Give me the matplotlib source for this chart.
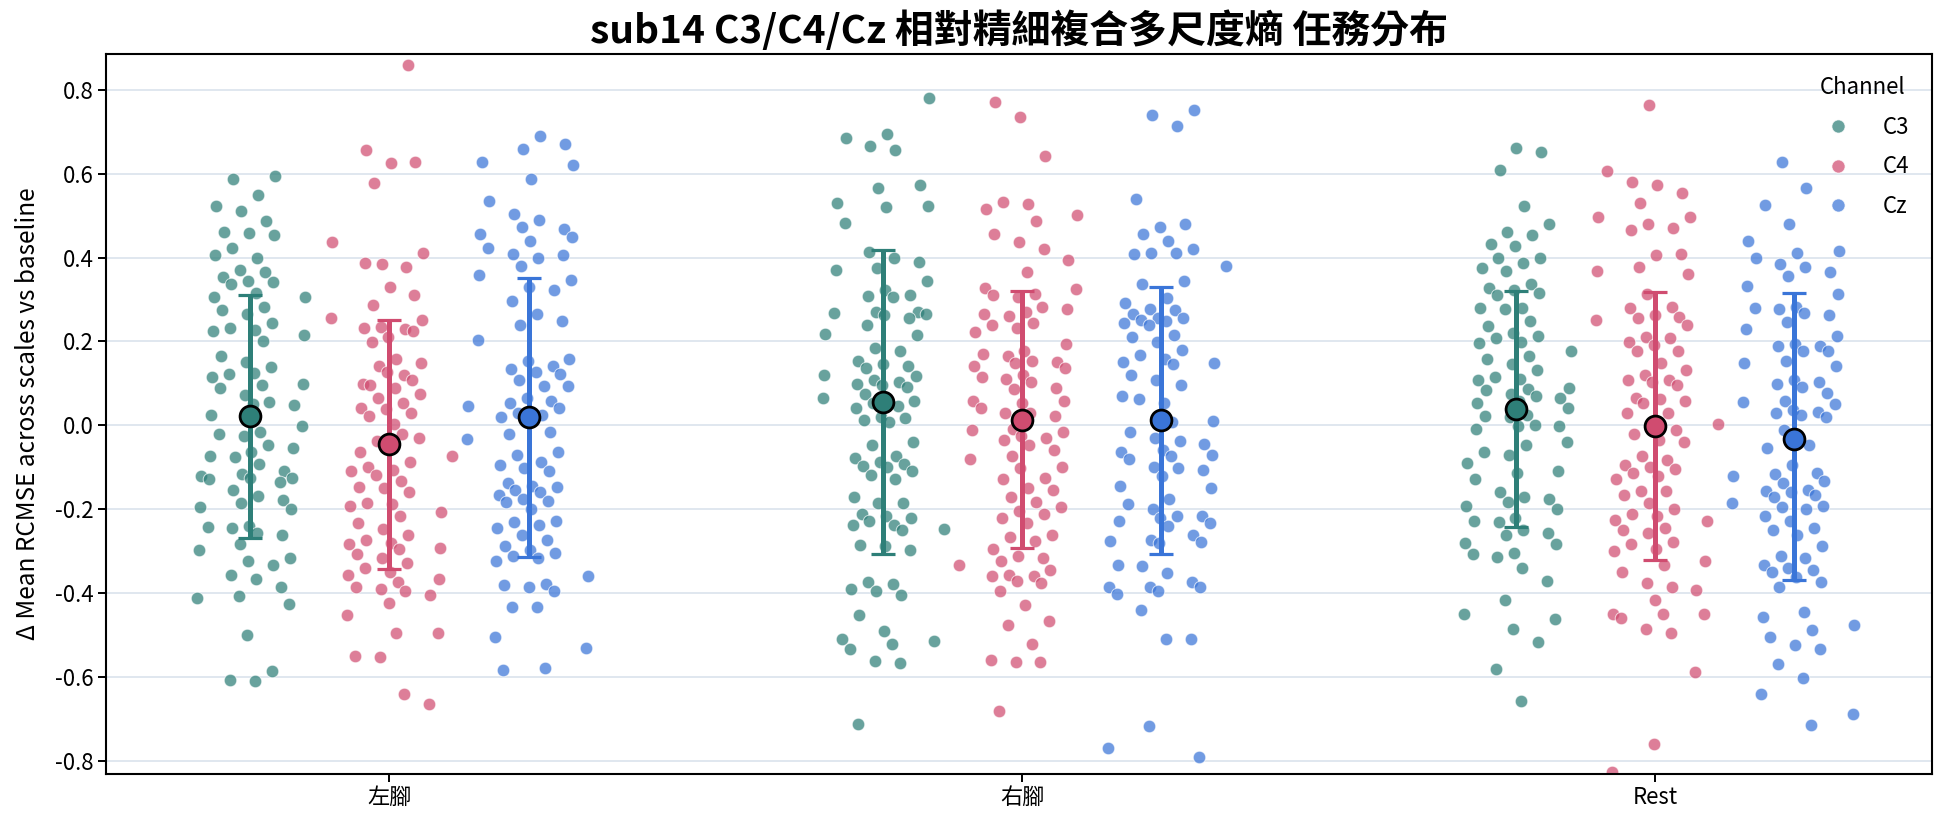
import numpy as np
import matplotlib
matplotlib.use("Agg")
import matplotlib.pyplot as plt
from matplotlib.lines import Line2D

plt.rcParams['font.family'] = ['Noto Sans CJK TC', 'DejaVu Sans']
plt.rcParams['axes.unicode_minus'] = False

tasks = ['左腳', '右腳', 'Rest']
channels = ['C3', 'C4', 'Cz']
base_colors = ['#2E7F78', '#D04C70', '#3A75D8']
y_ticks = [-0.8, -0.6, -0.4, -0.2, 0.0, 0.2, 0.4, 0.6, 0.8]

# summary markers (mean, upper and lower error-bar ends)
mean_left = [0.021, -0.045, 0.019]
mean_right = [0.056, 0.012, 0.012]
mean_rest = [0.039, -0.003, -0.033]
upper_left = [0.310, 0.252, 0.351]
upper_right = [0.417, 0.320, 0.330]
upper_rest = [0.320, 0.319, 0.316]
lower_left = [-0.268, -0.343, -0.314]
lower_right = [-0.308, -0.293, -0.308]
lower_rest = [-0.242, -0.321, -0.370]

left_C3 = [0.594, 0.587, 0.550, 0.524, 0.511, 0.488, 0.461, 0.459, 0.453, 0.423, 0.400, 0.405,
           0.371, 0.366, 0.353, 0.344, 0.342, 0.337, 0.316, 0.307, 0.305, 0.282, 0.274, 0.266,
           0.243, 0.232, 0.228, 0.224, 0.215, 0.201, 0.165, 0.150, 0.139, 0.122, 0.125, 0.114,
           0.099, 0.095, 0.089, 0.072, 0.056, 0.049, 0.050, 0.025, -0.003, -0.015, -0.020, -0.026,
           -0.048, -0.054, -0.065, -0.073, -0.076, -0.093, -0.110, -0.116, -0.121, -0.125, -0.127,
           -0.129, -0.154, -0.169, -0.179, -0.186, -0.194, -0.200, -0.241, -0.242, -0.245, -0.256,
           -0.261, -0.284, -0.298, -0.317, -0.323, -0.334, -0.357, -0.368, -0.385, -0.407, -0.411,
           -0.426, -0.501, -0.587, -0.607, -0.610, -0.135]
left_C4 = [0.860, 0.656, 0.625, 0.627, 0.579, 0.437, 0.412, 0.384, 0.378, 0.386, 0.330, 0.310,
           0.288, 0.257, 0.251, 0.234, 0.229, 0.232, 0.210, 0.224, 0.199, 0.159, 0.148, 0.141,
           0.120, 0.098, 0.126, 0.109, 0.095, 0.089, 0.075, 0.064, 0.053, 0.042, 0.038, 0.030,
           0.021, 0.002, -0.031, -0.037, -0.021, -0.065, -0.073, -0.087, -0.099, -0.107, -0.108,
           -0.119, -0.132, -0.147, -0.149, -0.160, -0.186, -0.188, -0.192, -0.208, -0.216, -0.233,
           -0.247, -0.261, -0.273, -0.280, -0.284, -0.293, -0.295, -0.306, -0.317, -0.329, -0.340,
           -0.351, -0.357, -0.368, -0.374, -0.385, -0.390, -0.396, -0.405, -0.424, -0.452, -0.495,
           -0.495, -0.551, -0.553, -0.640, -0.665]
left_Cz = [0.689, 0.672, 0.658, 0.629, 0.620, 0.588, 0.535, 0.505, 0.489, 0.469, 0.473, 0.457,
           0.448, 0.440, 0.423, 0.408, 0.400, 0.406, 0.380, 0.359, 0.347, 0.330, 0.323, 0.297,
           0.265, 0.249, 0.238, 0.204, 0.159, 0.154, 0.142, 0.133, 0.126, 0.122, 0.109, 0.094,
           0.093, 0.064, 0.058, 0.053, 0.045, 0.042, 0.030, 0.025, 0.019, 0.008, -0.015, -0.020,
           -0.033, -0.065, -0.071, -0.087, -0.095, -0.102, -0.110, -0.138, -0.144, -0.147, -0.155,
           -0.160, -0.166, -0.177, -0.181, -0.183, -0.200, -0.228, -0.231, -0.239, -0.245, -0.261,
           -0.273, -0.289, -0.297, -0.304, -0.312, -0.317, -0.323, -0.360, -0.379, -0.381, -0.385,
           -0.396, -0.433, -0.433, -0.506, -0.531, -0.579, -0.584]
right_C3 = [0.781, 0.694, 0.685, 0.665, 0.656, 0.572, 0.565, 0.531, 0.522, 0.520, 0.482, 0.414,
            0.400, 0.389, 0.376, 0.370, 0.344, 0.322, 0.311, 0.308, 0.305, 0.271, 0.270, 0.268,
            0.266, 0.264, 0.255, 0.238, 0.218, 0.215, 0.185, 0.176, 0.154, 0.145, 0.142, 0.137,
            0.120, 0.117, 0.109, 0.102, 0.098, 0.095, 0.092, 0.075, 0.066, 0.058, 0.053, 0.047,
            0.042, 0.019, 0.017, 0.013, 0.008, -0.039, -0.046, -0.073, -0.077, -0.087, -0.093,
            -0.098, -0.099, -0.110, -0.118, -0.129, -0.172, -0.185, -0.186, -0.211, -0.216, -0.222,
            -0.228, -0.237, -0.239, -0.248, -0.250, -0.286, -0.289, -0.297, -0.374, -0.379, -0.390,
            -0.396, -0.405, -0.452, -0.491, -0.510, -0.514, -0.522, -0.533, -0.562, -0.568, -0.712]
right_C4 = [0.771, 0.735, 0.642, 0.533, 0.527, 0.515, 0.501, 0.487, 0.457, 0.436, 0.421, 0.393,
            0.365, 0.328, 0.324, 0.313, 0.311, 0.305, 0.283, 0.277, 0.271, 0.266, 0.260, 0.243,
            0.238, 0.232, 0.223, 0.193, 0.176, 0.171, 0.165, 0.154, 0.151, 0.148, 0.142, 0.137,
            0.120, 0.114, 0.111, 0.103, 0.089, 0.086, 0.058, 0.058, 0.053, 0.042, 0.030, 0.028,
            0.021, -0.009, -0.012, -0.017, -0.026, -0.031, -0.035, -0.048, -0.059, -0.073, -0.080,
            -0.099, -0.102, -0.127, -0.129, -0.149, -0.155, -0.172, -0.183, -0.194, -0.205, -0.211,
            -0.222, -0.233, -0.261, -0.267, -0.276, -0.295, -0.312, -0.317, -0.323, -0.334, -0.345,
            -0.357, -0.360, -0.360, -0.371, -0.376, -0.396, -0.430, -0.466, -0.477, -0.522, -0.560,
            -0.564, -0.564, -0.682]
right_Cz = [0.752, 0.740, 0.715, 0.540, 0.473, 0.479, 0.457, 0.440, 0.420, 0.412, 0.412, 0.409,
            0.381, 0.344, 0.337, 0.303, 0.292, 0.277, 0.274, 0.266, 0.257, 0.255, 0.252, 0.249,
            0.243, 0.240, 0.215, 0.210, 0.199, 0.179, 0.167, 0.159, 0.151, 0.148, 0.145, 0.120,
            0.109, 0.095, 0.062, 0.053, 0.070, 0.011, 0.008, -0.017, -0.031, -0.037, -0.044, -0.059,
            -0.065, -0.071, -0.073, -0.080, -0.099, -0.102, -0.107, -0.121, -0.144, -0.149, -0.175,
            -0.188, -0.200, -0.216, -0.216, -0.222, -0.228, -0.233, -0.241, -0.261, -0.273, -0.275,
            -0.278, -0.282, -0.334, -0.337, -0.353, -0.374, -0.385, -0.385, -0.387, -0.396, -0.402,
            -0.441, -0.510, -0.510, -0.718, -0.769, -0.792]
rest_C3 = [0.661, 0.652, 0.609, 0.524, 0.481, 0.462, 0.454, 0.432, 0.427, 0.400, 0.400, 0.387,
           0.375, 0.369, 0.337, 0.328, 0.322, 0.316, 0.311, 0.279, 0.279, 0.277, 0.249, 0.237,
           0.221, 0.212, 0.208, 0.199, 0.196, 0.176, 0.165, 0.159, 0.145, 0.131, 0.114, 0.111,
           0.109, 0.089, 0.086, 0.084, 0.075, 0.070, 0.066, 0.058, 0.053, 0.042, 0.025, 0.021,
           0.019, 0.000, -0.003, -0.003, -0.009, -0.039, -0.048, -0.065, -0.071, -0.091, -0.110,
           -0.113, -0.129, -0.160, -0.172, -0.177, -0.183, -0.192, -0.200, -0.222, -0.228, -0.231,
           -0.250, -0.256, -0.261, -0.282, -0.284, -0.304, -0.306, -0.315, -0.340, -0.371, -0.416,
           -0.450, -0.463, -0.486, -0.517, -0.581, -0.657]
rest_C4 = [0.765, 0.606, 0.580, 0.574, 0.554, 0.529, 0.496, 0.496, 0.481, 0.470, 0.466, 0.405,
           0.408, 0.378, 0.369, 0.361, 0.313, 0.283, 0.280, 0.264, 0.258, 0.255, 0.252, 0.238,
           0.210, 0.208, 0.199, 0.191, 0.178, 0.178, 0.148, 0.131, 0.120, 0.109, 0.107, 0.103,
           0.095, 0.066, 0.062, 0.058, 0.053, 0.028, 0.030, 0.002, -0.012, -0.020, -0.035, -0.039,
           -0.073, -0.082, -0.096, -0.099, -0.104, -0.113, -0.121, -0.129, -0.157, -0.158, -0.166,
           -0.185, -0.200, -0.211, -0.216, -0.225, -0.228, -0.245, -0.250, -0.256, -0.278, -0.284,
           -0.295, -0.301, -0.323, -0.334, -0.349, -0.377, -0.385, -0.394, -0.418, -0.450, -0.450,
           -0.450, -0.461, -0.486, -0.495, -0.589, -0.761, -0.828]
rest_Cz = [0.629, 0.565, 0.525, 0.479, 0.440, 0.415, 0.412, 0.400, 0.384, 0.378, 0.365, 0.356,
           0.333, 0.313, 0.283, 0.279, 0.277, 0.268, 0.264, 0.246, 0.229, 0.213, 0.193, 0.190,
           0.190, 0.176, 0.176, 0.154, 0.148, 0.142, 0.109, 0.103, 0.098, 0.092, 0.077, 0.058,
           0.055, 0.050, 0.036, 0.032, 0.030, 0.025, 0.019, -0.012, -0.048, -0.054, -0.096, -0.113,
           -0.116, -0.121, -0.132, -0.138, -0.155, -0.158, -0.160, -0.166, -0.172, -0.185, -0.192,
           -0.194, -0.200, -0.216, -0.228, -0.245, -0.250, -0.261, -0.287, -0.312, -0.317, -0.334,
           -0.340, -0.345, -0.351, -0.362, -0.374, -0.385, -0.446, -0.458, -0.477, -0.488, -0.506,
           -0.525, -0.533, -0.570, -0.603, -0.640, -0.690, -0.716]

data = [[left_C3, left_C4, left_Cz],
        [right_C3, right_C4, right_Cz],
        [rest_C3, rest_C4, rest_Cz]]
means = [mean_left, mean_right, mean_rest]
uppers = [upper_left, upper_right, upper_rest]
lowers = [lower_left, lower_right, lower_rest]

fig = plt.figure(figsize=(19.44, 8.27), dpi=100)
ax = fig.add_axes([0.0545, 0.0646, 0.9393, 0.8703])

dodge = 0.22
jit = 0.105
g1 = 0.6180339887
g2 = 0.7548776662
for ti, task in enumerate(tasks):
    for ci, ch in enumerate(channels):
        vals = np.asarray(data[ti][ci])
        n = len(vals)
        center = ti + (ci - 1) * dodge
        idx = np.arange(n) + 1
        u1 = np.mod(idx * g1 + 0.37 * ci + 0.21 * ti, 1.0)
        u2 = np.mod(idx * g2 + 0.53 * ci + 0.11 * ti, 1.0)
        xs = center + (u1 + u2 - 1.0) * jit
        ax.scatter(xs, vals, s=82, color=base_colors[ci], alpha=0.72,
                   edgecolor='white', linewidth=0.7, zorder=2)
        m = means[ti][ci]
        hi = uppers[ti][ci]
        lo = lowers[ti][ci]
        ax.errorbar([center], [m], yerr=[[m - lo], [hi - m]], fmt='none',
                    ecolor=base_colors[ci], elinewidth=3.6, capsize=8.5, capthick=2.3,
                    zorder=3)
        ax.plot([center], [m], 'o', markersize=15, markerfacecolor=base_colors[ci],
                markeredgecolor='black', markeredgewidth=2.0, zorder=4)

ax.set_xlim(-0.448, 2.438)
ax.set_ylim(-0.831, 0.886)
ax.set_xticks(range(len(tasks)))
ax.set_xticklabels(tasks, fontsize=16)
ax.set_yticks(y_ticks)
ax.set_yticklabels([f'{v:.1f}' for v in y_ticks], fontsize=16)
ax.yaxis.grid(True, color='#dae3ec', linewidth=1.2)
ax.set_axisbelow(True)
for sp in ax.spines.values():
    sp.set_color('black')
    sp.set_linewidth(1.5)
ax.tick_params(axis='both', length=5.5, width=1.4, color='black')

ax.set_ylabel('Δ Mean RCMSE across scales vs baseline', fontsize=17.5, labelpad=10)
ax.set_title('sub14 C3/C4/Cz 相對精細複合多尺度熵 任務分布', fontsize=28,
             fontweight='bold', pad=8)

handles = [Line2D([0], [0], marker='o', linestyle='none', markersize=9.5,
                  markerfacecolor=c, markeredgecolor='white', markeredgewidth=0.7,
                  alpha=0.72) for c in base_colors]
leg = ax.legend(handles, channels, title='Channel', loc='upper right', frameon=False,
                fontsize=16, title_fontsize=16, handletextpad=1.05, labelspacing=0.75,
                borderaxespad=0.6)

fig.savefig('out.png', dpi=100)
